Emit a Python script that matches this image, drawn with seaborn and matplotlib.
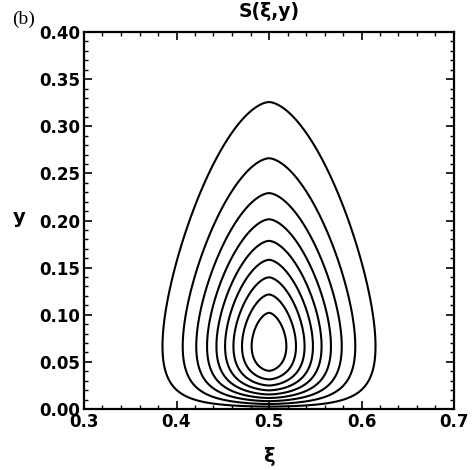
import numpy as np
import matplotlib
matplotlib.use("Agg")
import matplotlib.pyplot as plt
from matplotlib.ticker import MultipleLocator, FormatStrFormatter
import seaborn as sns

# contour levels (fractions of the peak value of S)
levels = [0.1, 0.2, 0.3, 0.4, 0.5, 0.6, 0.7, 0.8, 0.9]

# shape parameters of S(xi, y)
xi_center = 0.5      # ridge position in xi
y_peak = 0.0666      # height of the maximum in y
xi_width = 0.0705    # spread in xi
xi_power = 1.7       # flatness of the xi profile

x_ticks = [0.3, 0.4, 0.5, 0.6, 0.7]
y_ticks = [0.00, 0.05, 0.10, 0.15, 0.20, 0.25, 0.30, 0.35, 0.40]

sns.set_theme(style="ticks")
plt.rcParams['font.family'] = ['DejaVu Sans']
plt.rcParams.update({
    "text.color": "black",
    "axes.labelcolor": "black",
    "axes.titlecolor": "black",
    "xtick.color": "black",
    "ytick.color": "black",
})

xi = np.linspace(0.3, 0.7, 1201)
y = np.linspace(0.0, 0.4, 1601)
XI, Y = np.meshgrid(xi, y)
amp = (Y / y_peak) * np.exp(1.0 - Y / y_peak)
S = amp * np.exp(-(np.abs(XI - xi_center) / xi_width) ** xi_power)

fig = plt.figure(figsize=(4.75, 4.70), dpi=100)
ax = fig.add_axes([84 / 475, 61 / 470, 370 / 475, 377 / 470])
ax.set_facecolor("white")

ax.contour(XI, Y, S, levels=levels, colors="black", linewidths=1.5)

ax.set_xlim(0.3, 0.7)
ax.set_ylim(0.0, 0.4)
ax.set_xticks(x_ticks)
ax.set_yticks(y_ticks)
ax.xaxis.set_major_formatter(FormatStrFormatter("%.1f"))
ax.yaxis.set_major_formatter(FormatStrFormatter("%.2f"))
ax.xaxis.set_minor_locator(MultipleLocator(0.02))
ax.yaxis.set_minor_locator(MultipleLocator(0.01))

ax.tick_params(which="both", direction="in", top=True, right=True,
               colors="black")
ax.tick_params(which="major", length=6, width=1.2, pad=3, labelsize=12)
ax.tick_params(which="minor", length=3, width=1.0)
for lab in ax.get_xticklabels() + ax.get_yticklabels():
    lab.set_fontweight("bold")
for sp in ax.spines.values():
    sp.set_linewidth(1.6)
    sp.set_color("black")

ax.set_title("S(ξ,y)", fontsize=13.5, fontweight="bold", pad=11,
             color="black")
ax.set_xlabel("ξ", fontsize=14, fontweight="bold", va="center", ha="center")
ax.xaxis.set_label_coords(0.5, -0.127)
ax.set_ylabel("y", fontsize=14, fontweight="bold", rotation=0,
              va="center", ha="center")
ax.yaxis.set_label_coords(-0.176, 0.509)

fig.text(23.5 / 475, 1 - 19 / 470, "(b)", fontsize=14,
         family=["Liberation Serif", "DejaVu Serif"],
         ha="center", va="center")

fig.savefig("out.png", dpi=100, facecolor="white")
